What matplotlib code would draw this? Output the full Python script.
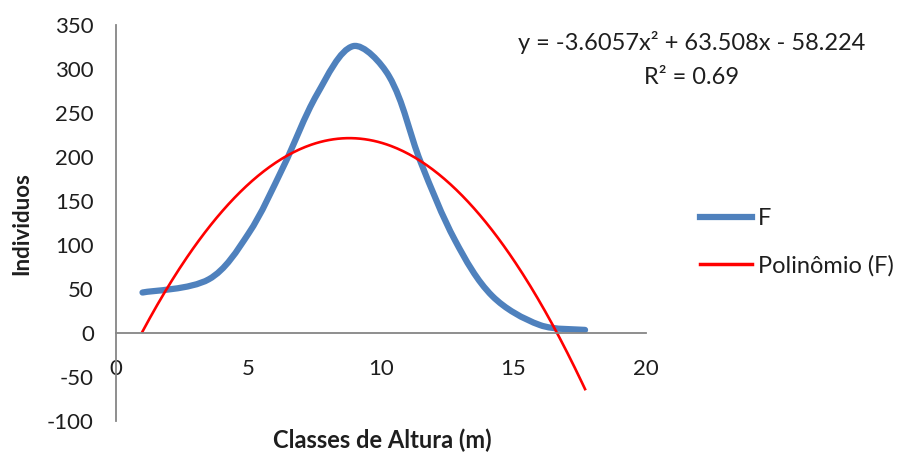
import numpy as np
import matplotlib
matplotlib.use("Agg")
import matplotlib.pyplot as plt
from matplotlib.path import Path
from matplotlib.patches import PathPatch
from matplotlib.lines import Line2D

# data
classes = [1.0, 3.5, 5.0, 6.3, 7.6, 8.95, 10.3, 11.5, 12.8, 14.2, 16.0, 17.7]
individuos = [46, 61, 113, 188, 272, 326, 292, 194, 105, 42, 9, 3.5]
trend_coef = [-3.6057, 63.508, -58.224]
equation_label = "y = -3.6057x\u00b2 + 63.508x - 58.224"
r2_label = "R\u00b2 = 0.69"
series_labels = ['F', 'Polinômio (F)']
x_title = 'Classes de Altura (m)'
y_title = 'Individuos'
x_ticks = [0, 5, 10, 15, 20]
y_ticks = [-100, -50, 0, 50, 100, 150, 200, 250, 300, 350]

plt.rcParams['font.family'] = ['Lato', 'DejaVu Sans']
plt.rcParams['axes.unicode_minus'] = False
fig = plt.figure(figsize=(9.03, 4.54), dpi=100)
ax = fig.add_axes([116/903, 1-421/454, 530/903, 396/454])
ax.set_xlim(0, 20)
ax.set_ylim(-100, 350)

grey = '#868686'
txt = '#1e1e1e'
for s in ['top', 'right']:
    ax.spines[s].set_visible(False)
ax.spines['bottom'].set_position(('data', 0))
ax.spines['left'].set_color(grey)
ax.spines['bottom'].set_color(grey)
ax.spines['left'].set_linewidth(1.3)
ax.spines['bottom'].set_linewidth(1.3)
ax.set_xticks(x_ticks)
ax.set_yticks(y_ticks)
ax.tick_params(axis='x', length=0, pad=19, labelsize=16, labelcolor=txt)
ax.tick_params(axis='y', length=0, pad=16, labelsize=16, labelcolor=txt)

# smoothed line: Bezier through the data points, tangents weighted by
# on-screen chord lengths (Excel-like smoothing)
pts_data = np.column_stack([classes, individuos]).astype(float)
pts = ax.transData.transform(pts_data)
n = len(pts)
def tangent(i):
    a = pts[i - 1] if i > 0 else pts[i]
    b = pts[i + 1] if i < n - 1 else pts[i]
    return b - a
verts = [pts[0]]
codes = [Path.MOVETO]
for i in range(n - 1):
    d_seg = np.hypot(*(pts[i + 1] - pts[i]))
    d_prev = np.hypot(*(pts[i] - pts[i - 1])) if i > 0 else d_seg
    d_next = np.hypot(*(pts[i + 2] - pts[i + 1])) if i + 2 < n else d_seg
    c1 = pts[i] + tangent(i) * d_seg / (3.0 * (d_prev + d_seg))
    c2 = pts[i + 1] - tangent(i + 1) * d_seg / (3.0 * (d_seg + d_next))
    verts += [c1, c2, pts[i + 1]]
    codes += [Path.CURVE4] * 3
verts = ax.transData.inverted().transform(np.array(verts))
blue = '#4F81BD'
ax.add_patch(PathPatch(Path(verts, codes), fill=False, edgecolor=blue,
                       linewidth=4.5, capstyle='round', joinstyle='round'))

xs = np.linspace(classes[0], classes[-1], 300)
ax.plot(xs, np.polyval(trend_coef, xs), color='#FF0000', linewidth=1.9)

handles = [Line2D([], [], color=blue, linewidth=4.5),
           Line2D([], [], color='#FF0000', linewidth=2.5)]
fig.legend(handles, series_labels, loc='center left',
           bbox_to_anchor=(700/903, 1-242.5/454), frameon=False,
           borderpad=0, borderaxespad=0, handlelength=2.2, handletextpad=0.25,
           labelspacing=1.1, fontsize=17, labelcolor=txt)

fig.text(692/903, 1-43/454, equation_label, ha='center', va='center', fontsize=17, color=txt)
fig.text(692/903, 1-77/454, r2_label, ha='center', va='center', fontsize=17, color=txt)
fig.text(382/903, 1-440/454, x_title, ha='center', va='center',
         fontsize=17, fontweight='bold', color=txt)
fig.text(22/903, 1-224/454, y_title, ha='center', va='center', rotation=90,
         fontsize=16, fontweight='bold', color=txt)

fig.savefig('out.png', dpi=100)
